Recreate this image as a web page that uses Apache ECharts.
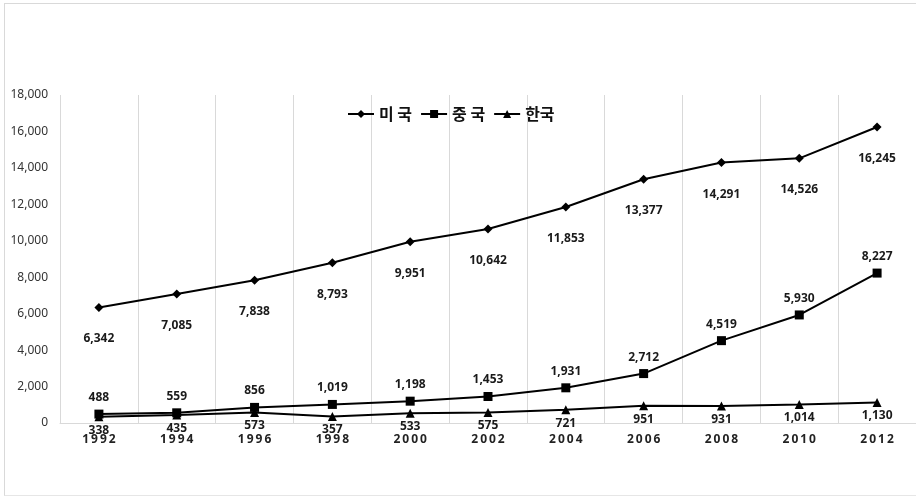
<!DOCTYPE html>
<html>
<head>
<meta charset="utf-8">
<script src="https://cdn.jsdelivr.net/npm/echarts@6/dist/echarts.min.js"></script>
<style>
    html, body { margin: 0; padding: 0; background: #fff; }
    #frame { position: absolute; left: 4px; top: 3px; width: 920px; height: 491px; border-left: 1px solid #d9d9d9; border-top: 1px solid #d9d9d9; border-bottom: 1px solid #e6e6e6; }
    #main { position: absolute; left: 0; top: 0; width: 916px; height: 498px; }
</style>
</head>
<body>
<div id="frame"></div>
<div id="main"></div>
<script>
// 연도 / 값
var years = ['1992', '1994', '1996', '1998', '2000', '2002', '2004', '2006', '2008', '2010', '2012'];
var usa = [6342, 7085, 7838, 8793, 9951, 10642, 11853, 13377, 14291, 14526, 16245];
var china = [488, 559, 856, 1019, 1198, 1453, 1931, 2712, 4519, 5930, 8227];
var korea = [338, 435, 573, 357, 533, 575, 721, 951, 931, 1014, 1130];
var names = ['미 국', '중 국', '한국'];

var chart = echarts.init(document.getElementById('main'));

var numFont = '"Noto Sans", "DejaVu Sans", sans-serif';
var fmt = function (p) { return p.value.toLocaleString('en-US'); };

function makeSeries(name, data, symbol, size, pos, dist) {
    return {
        name: name,
        type: 'line',
        data: data,
        symbol: symbol,
        symbolSize: size,
        showAllSymbol: true,
        lineStyle: { color: '#000', width: 2 },
        itemStyle: { color: '#000' },
        label: {
            show: true,
            position: pos,
            distance: dist,
            formatter: fmt,
            color: '#1a1a1a',
            fontWeight: 'bold',
            fontSize: 12,
            fontFamily: numFont
        },
        animation: false
    };
}

var option = {
    backgroundColor: 'transparent',
    grid: { left: 60, right: -7, top: 95, bottom: 75 },
    legend: {
        data: names,
        top: 101,
        left: 342,
        itemWidth: 26,
        itemHeight: 10,
        itemGap: 8,
        textStyle: {
            fontSize: 16,
            fontWeight: 'bold',
            color: '#111',
            fontFamily: '"Noto Sans CJK KR", sans-serif'
        }
    },
    xAxis: {
        type: 'category',
        data: years,
        boundaryGap: true,
        axisLine: { lineStyle: { color: '#d9d9d9' } },
        axisTick: { show: false },
        splitLine: { show: true, lineStyle: { color: '#d9d9d9', width: 1 } },
        axisLabel: {
            margin: 11,
            color: '#222',
            fontWeight: 'bold',
            fontSize: 12,
            fontFamily: numFont,
            formatter: function (v) { return v.split('').join('\u2009'); }
        }
    },
    yAxis: {
        type: 'value',
        min: 0,
        max: 18000,
        interval: 2000,
        axisLine: { show: false },
        axisTick: { show: false },
        splitLine: { show: false },
        axisLabel: {
            margin: 12,
            color: '#333',
            fontSize: 12,
            fontFamily: numFont,
            formatter: function (v) { return v.toLocaleString('en-US'); }
        }
    },
    series: [
        makeSeries(names[0], usa, 'diamond', 9, 'bottom', 21),
        makeSeries(names[1], china, 'rect', 9, 'top', 6),
        makeSeries(names[2], korea, 'triangle', 9, 'bottom', 3)
    ]
};

chart.setOption(option);
</script>
</body>
</html>
